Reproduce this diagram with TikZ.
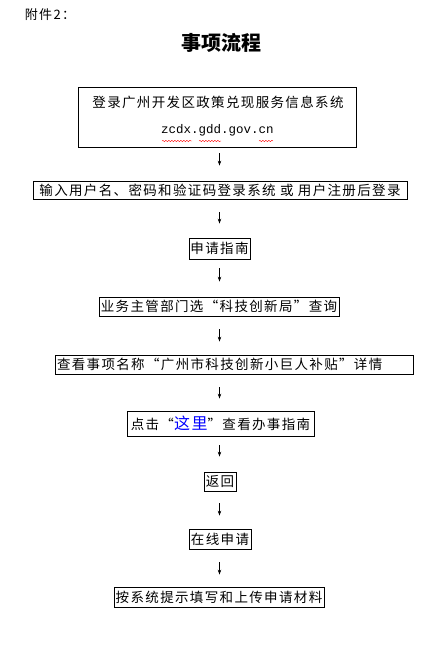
\documentclass[tikz,border=0pt]{standalone}
\usepackage{fontspec}
\setmainfont{Liberation Serif}
\newfontfamily\cjk[LetterSpace=10]{Noto Sans CJK SC}
\newfontfamily\cjktitle{Noto Sans CJK SC}
\newfontfamily\urlfont{Liberation Mono}
\usetikzlibrary{arrows.meta,decorations.pathmorphing}
\tikzset{
  box/.style={draw, line width=0.8pt, inner sep=0pt, minimum height=19pt,
    font=\cjk\fontsize{13.5}{15}\selectfont},
  arr/.style={-{Stealth[length=5pt,width=3.5pt]}, line width=0.6pt},
  wavy/.style={red, line width=0.4pt, decorate,
    decoration={snake, amplitude=0.7pt, segment length=3pt}},
}
\begin{document}
\begin{tikzpicture}[x=1pt,y=-1pt]
\useasboundingbox (0,0) rectangle (443,649);
\coordinate (ax) at (219.5,0);
\node (att) at (50,15) {\cjk\fontsize{13}{14}\selectfont 附件2：};
\node (title) at (221,43) {\cjktitle\bfseries\fontsize{20}{24}\selectfont 事项流程};
% box 1
\node[box, minimum width=278pt, minimum height=60pt] (b1) at (217,117) {};
\node[font=\cjk\fontsize{13.5}{15}\selectfont, inner sep=0pt] (b1t) at (218,102) {登录广州开发区政策兑现服务信息系统};
\node[font=\urlfont\fontsize{12.5}{14}\selectfont, inner sep=0pt] (b1u) at (217.5,130) {zcdx.gdd.gov.cn};
\draw[wavy] (162,141) -- (192,141);
\draw[wavy] (199,141) -- (221,141);
\draw[wavy] (259,141) -- (273,141);
% other boxes
\node[box, minimum width=374pt, minimum height=18pt] (b2) at (220,190) {输入用户名、密码和验证码登录系统 或 用户注册后登录};
\node[box, minimum width=61pt, minimum height=21pt] (b3) at (219.5,248.5) {申请指南};
\node[box, minimum width=240pt] (b4) at (219,306.5) {业务主管部门选“科技创新局”查询};
\node[box, text width=354pt, inner xsep=2pt, align=left] (b5) at (234,364.5) {查看事项名称“广州市科技创新小巨人补贴”详情};
\node[box, minimum width=187pt, minimum height=25pt] (b6) at (220.5,423.5) {点击“{\color{blue}\fontsize{16}{16}\selectfont 这里}”查看办事指南};
\node[box, minimum width=32pt] (b7) at (220,481.5) {返回};
\node[box, minimum width=62pt, minimum height=20pt] (b8) at (220,539) {在线申请};
\node[box, minimum width=210pt, minimum height=20pt] (b9) at (219,597) {按系统提示填写和上传申请材料};
% arrows
\draw[arr, shorten <=6pt, shorten >=15pt] (b1.south -| ax) -- (b2.north -| ax);
\draw[arr, shorten <=13pt, shorten >=14pt] (b2.south -| ax) -- (b3.north -| ax);
\draw[arr, shorten <=9pt, shorten >=15pt] (b3.south -| ax) -- (b4.north -| ax);
\draw[arr, shorten <=13pt, shorten >=13pt] (b4.south -| ax) -- (b5.north -| ax);
\draw[arr, shorten <=13pt, shorten >=12pt] (b5.south -| ax) -- (b6.north -| ax);
\draw[arr, shorten <=9pt, shorten >=15pt] (b6.south -| ax) -- (b7.north -| ax);
\draw[arr, shorten <=12pt, shorten >=13pt] (b7.south -| ax) -- (b8.north -| ax);
\draw[arr, shorten <=13pt, shorten >=12pt] (b8.south -| ax) -- (b9.north -| ax);
\end{tikzpicture}
\end{document}
